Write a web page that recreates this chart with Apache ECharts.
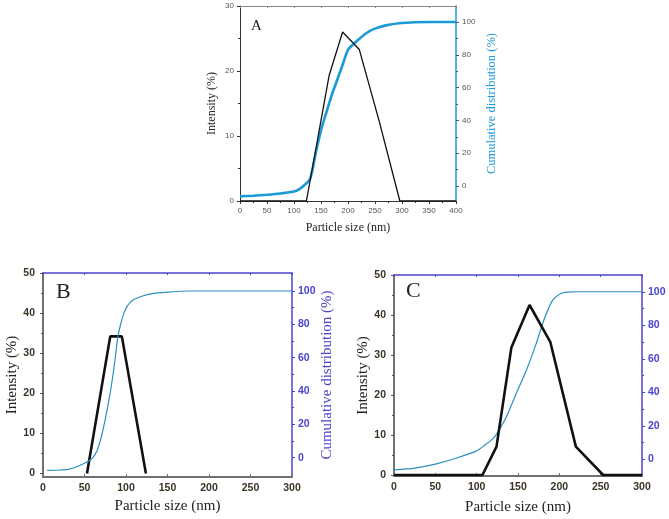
<!DOCTYPE html>
<html>
<head>
<meta charset="utf-8">
<script src="https://cdn.jsdelivr.net/npm/echarts@6/dist/echarts.min.js"></script>
<style>html,body{margin:0;padding:0;background:#fff;}#c{width:669px;height:519px;}</style>
</head>
<body>
<div id="c"></div>
<script>
// ---- Data ----
// Panel A
const aIntX = [0, 123, 165, 190, 221, 258, 296, 400];
const aIntY = [0, 0, 19.3, 26, 23.3, 12.2, 0, 0];
const aCumX = [0, 25, 50, 75, 100, 110, 120, 130, 140, 150, 160, 170, 180, 190, 200, 210, 220, 230, 240, 250, 270, 300, 350, 400];
const aCumY = [-6.3, -5.9, -5.3, -4.5, -3.3, -1.8, 0.8, 4.5, 19.6, 34, 45, 55.6, 64.7, 74, 83, 86.5, 89.5, 92.3, 94.5, 96, 98, 99.4, 100, 100];
// Panel B
const bIntX = [53, 81, 95, 124];
const bIntY = [0, 34.2, 34.2, 0];
const bCumX = [5, 20, 30, 40, 50, 55, 60, 65, 70, 75, 80, 85, 88, 90, 93, 97, 101, 105, 110, 120, 130, 150, 175, 300];
const bCumY = [-7.6, -7.4, -7, -5.6, -3.4, -2, 0, 4, 12, 23, 36, 52, 64, 72, 79, 86, 90.5, 93, 95, 97, 98.3, 99.3, 100, 100];
// Panel C
const cIntX = [0, 107, 124, 142, 164, 189, 220, 253, 300];
const cIntY = [0, 0, 7.1, 31.9, 42.5, 33.3, 7.1, 0, 0];
const cCumX = [0, 25, 50, 75, 100, 110, 120, 126, 136, 148, 160, 172, 182, 192, 202, 210, 220, 300];
const cCumY = [-6.4, -5.3, -2.9, 0.6, 5, 8.5, 12.5, 16.5, 25.4, 39.4, 53, 69, 84, 95, 99, 99.8, 100, 100];
// Tick labels
const intTicksBC = [0, 10, 20, 30, 40, 50];
const intMinorBC = [5, 15, 25, 35, 45];
const cumTicks = [0, 20, 40, 60, 80, 100];
const cumMinor = [10, 30, 50, 70, 90];
const letters = ['A', 'B', 'C'];
const xName = 'Particle size (nm)';
const yNameLeft = 'Intensity (%)';
const yNameRight = 'Cumulative distribution (%)';

const zip = (xs, ys) => xs.map((x, i) => [x, ys[i]]);

const SERIF = 'Liberation Serif';
const SANS = 'Liberation Sans';
const BLUE_A = '#1a9ad6';
const BLUE_L = '#2a8fc0';
const VIOLET = '#4a44cc';
const BROWN = '#3b3326';

const noSplit = {show: false};

function overlayY(grid, pos, min, max, vals, color, len) {
  return {
    type: 'value', gridIndex: grid, position: pos, min: min, max: max,
    axisLine: {show: false, onZero: false}, splitLine: noSplit,
    axisLabel: {show: false, customValues: vals},
    axisTick: {show: true, customValues: vals, length: len, lineStyle: {color: color, width: 1}}
  };
}

const option = {
  animation: false,
  backgroundColor: '#ffffff',
  title: [
    {text: letters[0], left: 251, top: 19, padding: 0, textStyle: {fontFamily: SERIF, fontSize: 15, fontWeight: 'normal', color: '#222'}},
    {text: letters[1], left: 56, top: 281, padding: 0, textStyle: {fontFamily: SERIF, fontSize: 22, fontWeight: 'normal', color: '#222'}},
    {text: letters[2], left: 406, top: 280, padding: 0, textStyle: {fontFamily: SERIF, fontSize: 22, fontWeight: 'normal', color: '#222'}}
  ],
  grid: [
    {left: 240, top: 6, width: 216, height: 195, outerBoundsMode: 'none'},
    {left: 43, top: 273, width: 249, height: 204, outerBoundsMode: 'none'},
    {left: 394, top: 275, width: 248, height: 201, outerBoundsMode: 'none'}
  ],
  xAxis: [
    {type: 'value', gridIndex: 0, position: 'bottom', min: 0, max: 400, interval: 50,
     axisLine: {onZero: false, lineStyle: {color: '#333', width: 1}},
     axisTick: {length: 3, lineStyle: {color: '#333'}},
     minorTick: {show: true, splitNumber: 2, length: 2, lineStyle: {color: '#333'}},
     axisLabel: {fontFamily: SANS, fontSize: 8, color: '#555', margin: 6},
     splitLine: noSplit, minorSplitLine: noSplit,
     name: xName, nameLocation: 'middle', nameGap: 21,
     nameTextStyle: {fontFamily: SERIF, fontSize: 12, color: '#222'}},
    {type: 'value', gridIndex: 0, position: 'top', min: 0, max: 400, interval: 50,
     axisLine: {onZero: false, lineStyle: {color: '#888', width: 1}},
     axisTick: {show: true, inside: true, length: 2, lineStyle: {color: '#888'}},
     axisLabel: {show: false}, splitLine: noSplit},
    {type: 'value', gridIndex: 1, position: 'bottom', min: 0, max: 300, interval: 50,
     axisLine: {onZero: false, lineStyle: {color: '#707070', width: 2}},
     axisTick: {inside: true, length: 3, lineStyle: {color: '#707070'}},
     axisLabel: {fontFamily: SANS, fontSize: 10.5, fontWeight: 'bold', color: BROWN, margin: 6},
     splitLine: noSplit,
     name: xName, nameLocation: 'middle', nameGap: 22,
     nameTextStyle: {fontFamily: SERIF, fontSize: 15, color: '#222'}},
    {type: 'value', gridIndex: 1, position: 'top', min: 0, max: 300, interval: 50,
     axisLine: {onZero: false, lineStyle: {color: VIOLET, width: 1.5}},
     axisTick: {show: true, inside: true, length: 2, lineStyle: {color: VIOLET}},
     axisLabel: {show: false}, splitLine: noSplit},
    {type: 'value', gridIndex: 2, position: 'bottom', min: 0, max: 300, interval: 50,
     axisLine: {onZero: false, lineStyle: {color: '#707070', width: 2}},
     axisTick: {inside: true, length: 3, lineStyle: {color: '#707070'}},
     axisLabel: {fontFamily: SANS, fontSize: 10.5, fontWeight: 'bold', color: BROWN, margin: 6},
     splitLine: noSplit,
     name: xName, nameLocation: 'middle', nameGap: 24,
     nameTextStyle: {fontFamily: SERIF, fontSize: 15, color: '#222'}},
    {type: 'value', gridIndex: 2, position: 'top', min: 0, max: 300, interval: 50,
     axisLine: {onZero: false, lineStyle: {color: VIOLET, width: 1.5}},
     axisTick: {show: true, inside: true, length: 2, lineStyle: {color: VIOLET}},
     axisLabel: {show: false}, splitLine: noSplit}
  ],
  yAxis: [
    // 0: A left
    {type: 'value', gridIndex: 0, position: 'left', min: 0, max: 30, interval: 10,
     axisLine: {show: true, onZero: false, lineStyle: {color: '#333', width: 1}},
     axisTick: {show: true, length: 3, lineStyle: {color: '#333'}},
     minorTick: {show: true, splitNumber: 2, length: 2, lineStyle: {color: '#333'}},
     axisLabel: {fontFamily: SANS, fontSize: 8, color: '#555', margin: 6},
     splitLine: noSplit, minorSplitLine: noSplit,
     name: yNameLeft, nameLocation: 'middle', nameGap: 22,
     nameTextStyle: {fontFamily: SERIF, fontSize: 12, color: '#222'}},
    // 1: A right
    {type: 'value', gridIndex: 0, position: 'right', min: -9.1, max: 109.8,
     axisLine: {show: true, onZero: false, lineStyle: {color: BLUE_A, width: 1.5}},
     axisTick: {show: true, length: 3, customValues: cumTicks, lineStyle: {color: '#555'}},
     axisLabel: {fontFamily: SANS, fontSize: 8, color: '#555', margin: 6, customValues: cumTicks},
     splitLine: noSplit,
     name: yNameRight, nameLocation: 'middle', nameGap: 29,
     nameTextStyle: {fontFamily: SERIF, fontSize: 12.5, color: BLUE_A}},
    // 2: B left
    {type: 'value', gridIndex: 1, position: 'left', min: -0.85, max: 50,
     axisLine: {show: true, onZero: false, lineStyle: {color: '#707070', width: 2}},
     axisTick: {show: true, length: 3, customValues: intTicksBC, lineStyle: {color: '#555'}},
     axisLabel: {fontFamily: SANS, fontSize: 10.5, fontWeight: 'bold', color: BROWN, margin: 8, customValues: intTicksBC},
     splitLine: noSplit,
     name: yNameLeft, nameLocation: 'middle', nameGap: 23,
     nameTextStyle: {fontFamily: SERIF, fontSize: 15, color: '#222'}},
    // 3: B right
    {type: 'value', gridIndex: 1, position: 'right', min: -11.6, max: 110.8,
     axisLine: {show: true, onZero: false, lineStyle: {color: VIOLET, width: 1.5}},
     axisTick: {show: true, length: 3, customValues: cumTicks, lineStyle: {color: VIOLET}},
     axisLabel: {fontFamily: SANS, fontSize: 10.5, fontWeight: 'bold', color: VIOLET, margin: 6, customValues: cumTicks},
     splitLine: noSplit,
     name: yNameRight, nameLocation: 'middle', nameGap: 25,
     nameTextStyle: {fontFamily: SERIF, fontSize: 15, color: VIOLET}},
    // 4: C left
    {type: 'value', gridIndex: 2, position: 'left', min: -0.25, max: 50,
     axisLine: {show: true, onZero: false, lineStyle: {color: '#707070', width: 2}},
     axisTick: {show: true, length: 3, customValues: intTicksBC, lineStyle: {color: '#555'}},
     axisLabel: {fontFamily: SANS, fontSize: 10.5, fontWeight: 'bold', color: BROWN, margin: 8, customValues: intTicksBC},
     splitLine: noSplit,
     name: yNameLeft, nameLocation: 'middle', nameGap: 21,
     nameTextStyle: {fontFamily: SERIF, fontSize: 15, color: '#222'}},
    // 5: C right
    {type: 'value', gridIndex: 2, position: 'right', min: -10, max: 110,
     axisLine: {show: true, onZero: false, lineStyle: {color: VIOLET, width: 1.5}},
     axisTick: {show: true, length: 3, customValues: cumTicks, lineStyle: {color: VIOLET}},
     axisLabel: {fontFamily: SANS, fontSize: 10.5, fontWeight: 'bold', color: VIOLET, margin: 6, customValues: cumTicks},
     splitLine: noSplit},
    // 6-10: minor tick overlays
    overlayY(0, 'right', -9.1, 109.8, cumMinor, '#555', 2),
    overlayY(1, 'left', -0.85, 50, intMinorBC, '#555', 2),
    overlayY(1, 'right', -11.6, 110.8, cumMinor, VIOLET, 2),
    overlayY(2, 'left', -0.25, 50, intMinorBC, '#555', 2),
    overlayY(2, 'right', -10, 110, cumMinor, VIOLET, 2)
  ],
  series: [
    {type: 'line', xAxisIndex: 0, yAxisIndex: 1, data: zip(aCumX, aCumY), symbol: 'none',
     smooth: 0.25, lineStyle: {color: BLUE_A, width: 2.6}, z: 2},
    {type: 'line', xAxisIndex: 0, yAxisIndex: 0, data: zip(aIntX, aIntY), symbol: 'none',
     lineStyle: {color: '#111', width: 1.3}, z: 3},
    {type: 'line', xAxisIndex: 2, yAxisIndex: 2, data: zip(bIntX, bIntY), symbol: 'none',
     lineStyle: {color: '#111', width: 2.6}, z: 2},
    {type: 'line', xAxisIndex: 2, yAxisIndex: 3, data: zip(bCumX, bCumY), symbol: 'none',
     smooth: 0.25, lineStyle: {color: BLUE_L, width: 1.2}, z: 3},
    {type: 'line', xAxisIndex: 4, yAxisIndex: 5, data: zip(cCumX, cCumY), symbol: 'none',
     smooth: 0.25, lineStyle: {color: BLUE_L, width: 1.2}, z: 2},
    {type: 'line', xAxisIndex: 4, yAxisIndex: 4, data: zip(cIntX, cIntY), symbol: 'none',
     lineStyle: {color: '#111', width: 2.6}, z: 3}
  ]
};

const chart = echarts.init(document.getElementById('c'), null, {renderer: 'canvas'});
chart.setOption(option);
</script>
</body>
</html>
